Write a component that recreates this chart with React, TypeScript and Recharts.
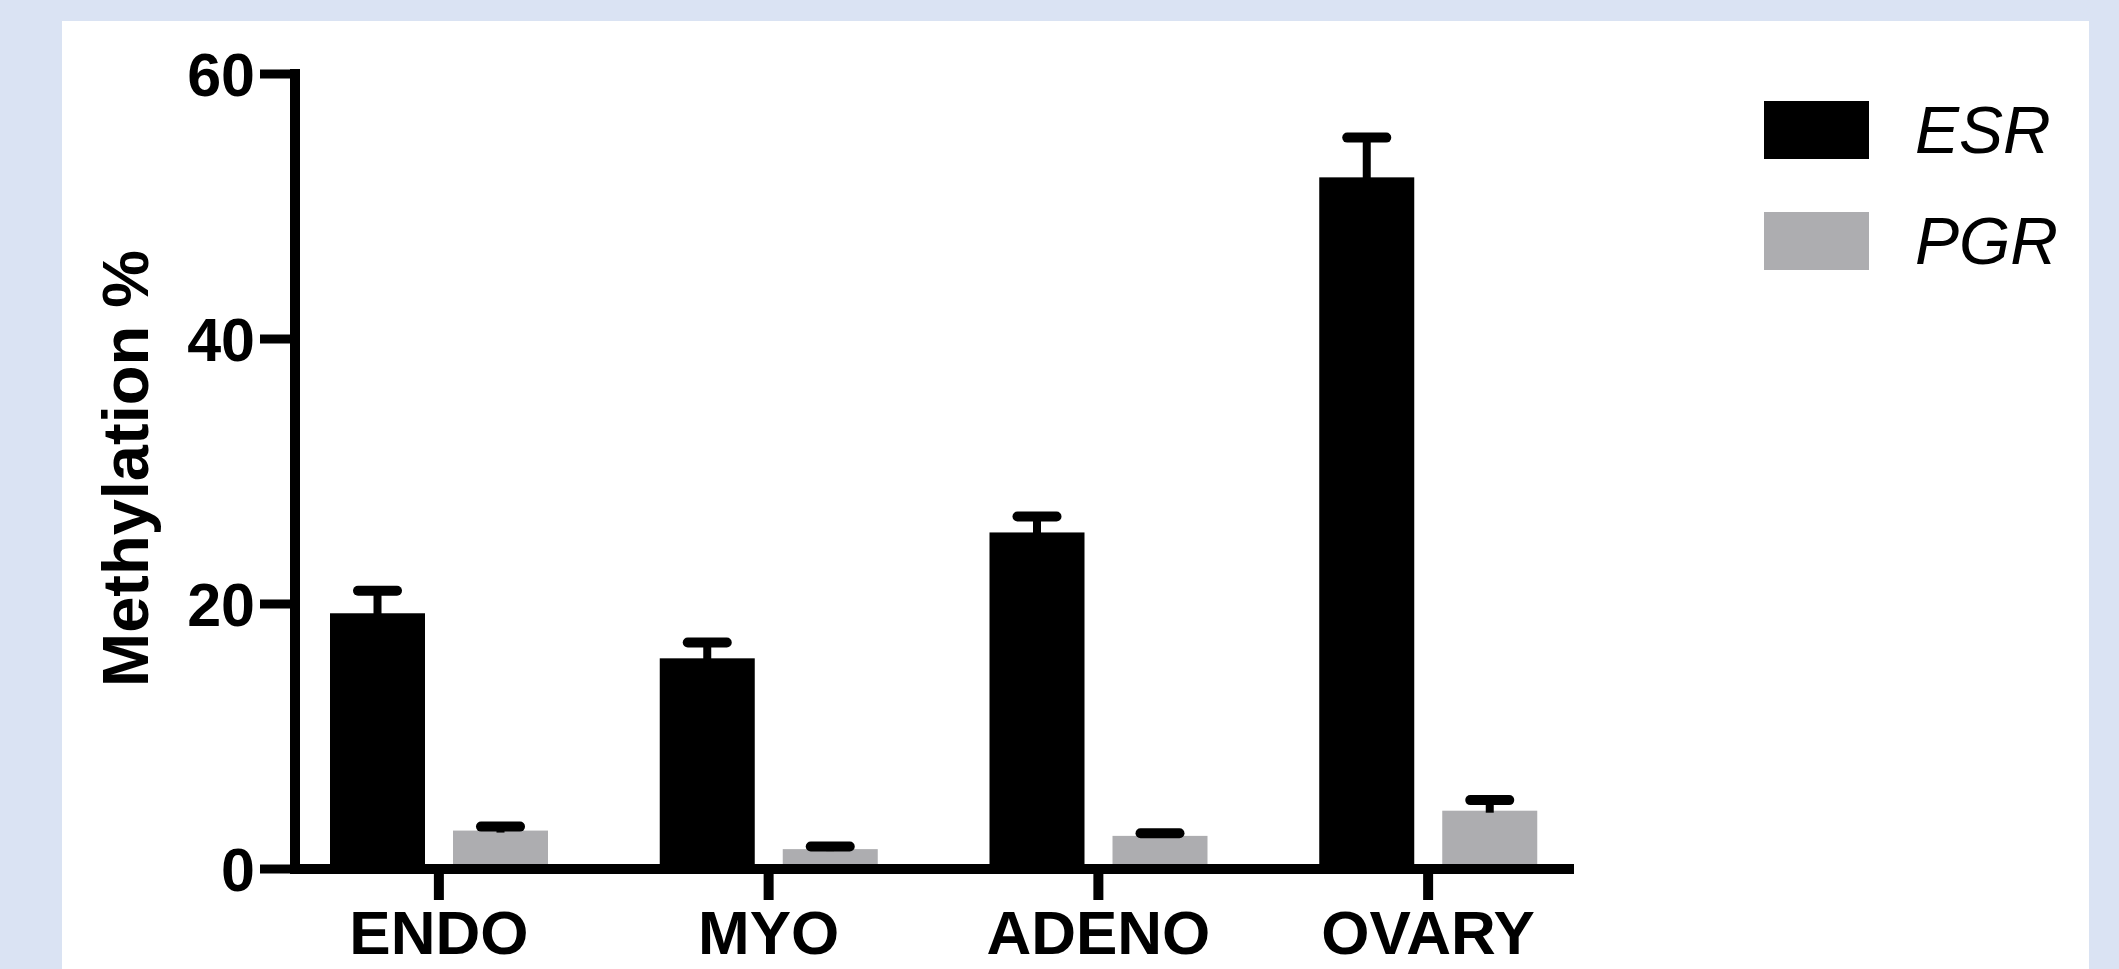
import React from 'react';
import { BarChart, Bar, XAxis, YAxis, Legend, Label } from 'recharts';

const categories = ['ENDO', 'MYO', 'ADENO', 'OVARY'];
const esrValues = [19.3, 15.9, 25.4, 52.2];
const esrErrors = [1.7, 1.2, 1.2, 3.0];
const pgrValues = [2.9, 1.5, 2.5, 4.4];
const pgrErrors = [0.3, 0.2, 0.2, 0.8];
const yTicks = [0, 20, 40, 60];
const yLabel = 'Methylation %';

const data = categories.map((c, i) => ({
  name: c,
  ESR: esrValues[i],
  esrErr: esrErrors[i],
  PGR: pgrValues[i],
  pgrErr: pgrErrors[i],
}));

const FONT = '"Liberation Sans", Arial, Helvetica, sans-serif';

const makeShape = (errKey: string) => (props: any) => {
  const { x, y, width, height, fill, payload, value } = props;
  const v = Array.isArray(value) ? value[1] - value[0] : value;
  const pxPer = v ? height / v : 0;
  const errPx = (payload[errKey] || 0) * pxPer;
  const cx = x + width / 2;
  const top = y - errPx;
  return (
    <g>
      <rect x={x} y={y} width={width} height={height} fill={fill} />
      <line x1={cx} x2={cx} y1={y + 2} y2={top} stroke="#000" strokeWidth={8} />
      <line x1={cx - 19.5} x2={cx + 19.5} y1={top} y2={top} stroke="#000" strokeWidth={10} strokeLinecap="round" />
    </g>
  );
};

const renderLegend = (props: any) => {
  const { payload } = props;
  return (
    <div style={{ display: 'flex', flexDirection: 'column' }}>
      {(payload || []).map((entry: any, i: number) => (
        <div key={i} style={{ display: 'flex', alignItems: 'center', height: 58, marginBottom: 53 }}>
          <div style={{ width: 105, height: 58, background: entry.color, flex: '0 0 auto' }} />
          <span style={{ marginLeft: 46, fontFamily: FONT, fontStyle: 'italic', fontSize: 66, lineHeight: '58px', color: '#000', whiteSpace: 'nowrap' }}>
            {entry.value}
          </span>
        </div>
      ))}
    </div>
  );
};

const renderYLabel = (props: any) => {
  const vb = props.viewBox || { x: 60, y: 74, width: 235, height: 795 };
  const x = vb.x + 88;
  const y = vb.y + vb.height / 2 - 3;
  return (
    <text
      x={x}
      y={y}
      transform={`rotate(-90, ${x}, ${y})`}
      textAnchor="middle"
      fontFamily={FONT}
      fontWeight={700}
      fontSize={65}
      fill="#000"
    >
      {yLabel}
    </text>
  );
};

export default function App() {
  return (
    <div style={{ position: 'absolute', left: 0, top: 0, width: 2119, height: 969, background: '#DAE3F3', overflow: 'hidden' }}>
      <div style={{ position: 'absolute', left: 62, top: 21, width: 2027, height: 948, background: '#FFFFFF' }} />
      <div style={{ position: 'absolute', left: 0, top: 0 }}>
        <BarChart
          width={2119}
          height={969}
          data={data}
          margin={{ top: 74, right: 545, bottom: 0, left: 60 }}
          barSize={95}
          barGap={28}
        >
          <XAxis
            dataKey="name"
            height={100}
            padding={{ left: -21, right: -19 }}
            interval={0}
            axisLine={{ stroke: '#000', strokeWidth: 10 }}
            tickLine={{ stroke: '#000', strokeWidth: 10 }}
            tickSize={31}
            tickMargin={10}
            tick={{ fill: '#000', fontSize: 62, fontWeight: 700, fontFamily: FONT }}
          />
          <YAxis
            width={235}
            domain={[0, 60]}
            ticks={yTicks}
            interval={0}
            axisLine={{ stroke: '#000', strokeWidth: 10, strokeLinecap: 'square' }}
            tickLine={{ stroke: '#000', strokeWidth: 9 }}
            tickSize={35}
            tickMargin={5}
            tick={{ fill: '#000', fontSize: 61, fontWeight: 700, fontFamily: FONT }}
          >
            <Label content={renderYLabel} />
          </YAxis>
          <Bar dataKey="ESR" name="ESR" fill="#000000" isAnimationActive={false} shape={makeShape('esrErr')} />
          <Bar dataKey="PGR" name="PGR" fill="#ADADB0" isAnimationActive={false} shape={makeShape('pgrErr')} />
          <Legend
            layout="vertical"
            align="center"
            verticalAlign="middle"
            content={renderLegend}
            wrapperStyle={{ position: 'absolute', left: 1764, top: 101, width: 330, height: 230 }}
          />
        </BarChart>
      </div>
    </div>
  );
}
